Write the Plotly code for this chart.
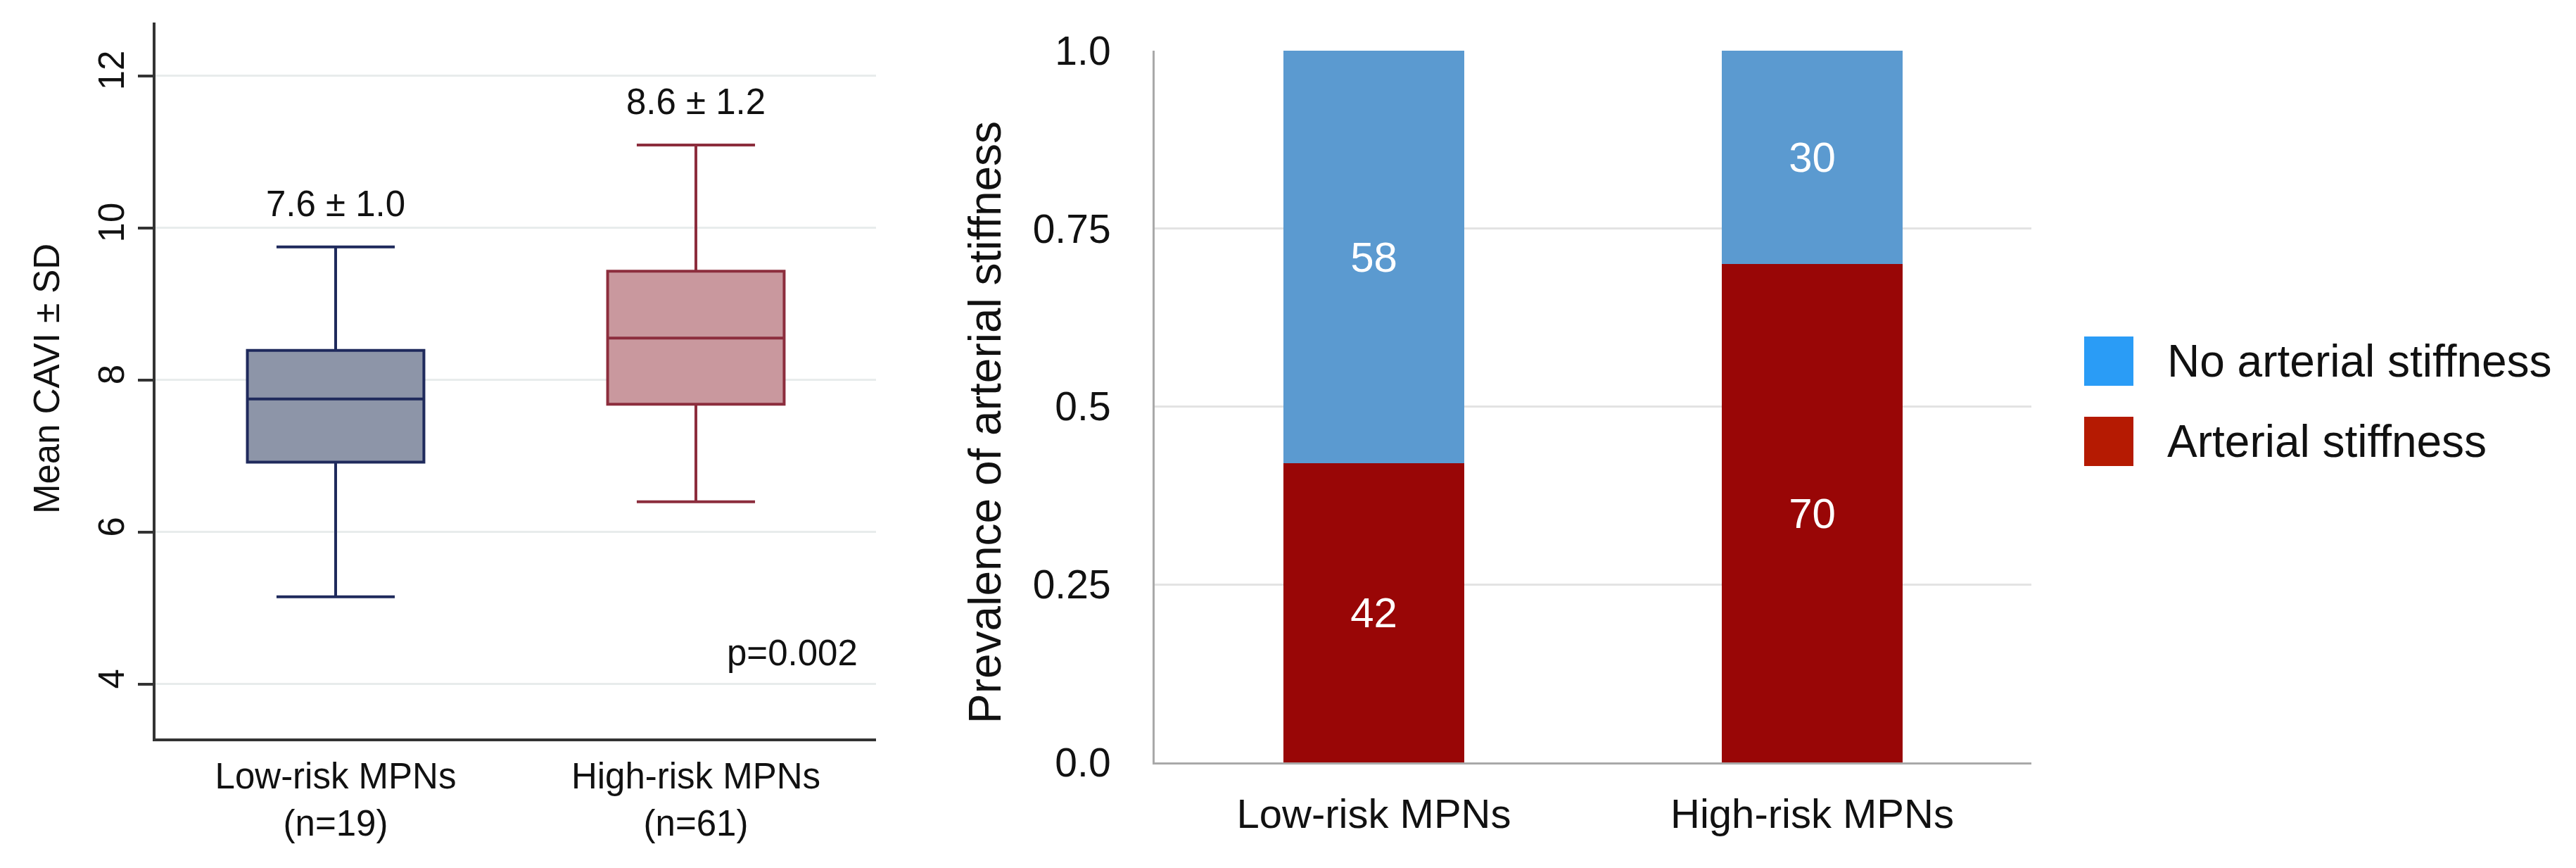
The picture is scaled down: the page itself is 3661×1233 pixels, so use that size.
import plotly.graph_objects as go

# ---------------- data ----------------
groups = ["Low-risk MPNs", "High-risk MPNs"]
group_labels = ["Low-risk MPNs<br>(n=19)", "High-risk MPNs<br>(n=61)"]
box_lowerfence = [5.15, 6.40]
box_q1 = [6.92, 7.68]
box_median = [7.75, 8.55]
box_q3 = [8.39, 9.43]
box_upperfence = [9.75, 11.09]
box_labels = ["7.6 ± 1.0", "8.6 ± 1.2"]
p_label = "p=0.002"

stiff = [0.42, 0.70]
no_stiff = [0.58, 0.30]
legend_names = ["No arterial stiffness", "Arterial stiffness"]

left_yticks = [4, 6, 8, 10, 12]
right_yticks = [0, 0.25, 0.5, 0.75, 1.0]
right_yticktext = ["0.0", "0.25", "0.5", "0.75", "1.0"]

# ---------------- style ----------------
FONT = "Liberation Sans, Arial, Helvetica, sans-serif"
box_fill = ["#8d95a8", "#c9989e"]
box_line = ["#1f2a5c", "#8c2d3d"]
bar_red = "#990606"
bar_blue = "#5b9ad0"
leg_blue = "#2a9cf6"
leg_red = "#b51a02"

W, H = 3661, 1233

fig = go.Figure()

for i, g in enumerate(groups):
    fig.add_trace(go.Box(
        x=[g], q1=[box_q1[i]], median=[box_median[i]], q3=[box_q3[i]],
        lowerfence=[box_lowerfence[i]], upperfence=[box_upperfence[i]],
        fillcolor=box_fill[i], line=dict(color=box_line[i], width=4),
        width=0.49, whiskerwidth=0.67, boxpoints=False, showlegend=False,
        hoverinfo="skip", xaxis="x", yaxis="y",
    ))
    fig.add_annotation(
        x=g, y=box_upperfence[i] + 0.57, xref="x", yref="y",
        text=box_labels[i], showarrow=False, yanchor="middle",
        font=dict(family=FONT, size=51, color="#111111"),
    )

fig.add_annotation(
    x=0.977, y=4.41, xref="x domain", yref="y", text=p_label,
    showarrow=False, xanchor="right", yanchor="middle",
    font=dict(family=FONT, size=51, color="#111111"),
)

fig.add_trace(go.Bar(
    x=groups, y=stiff, marker=dict(color=bar_red, line=dict(width=0)),
    width=0.413, text=[str(round(v * 100)) for v in stiff],
    textposition="inside", insidetextanchor="middle", textangle=0,
    constraintext="none",
    textfont=dict(family=FONT, size=60, color="white"),
    showlegend=False, xaxis="x2", yaxis="y2", name=legend_names[1],
))
fig.add_trace(go.Bar(
    x=groups, y=no_stiff, marker=dict(color=bar_blue, line=dict(width=0)),
    width=0.413, text=[str(round(v * 100)) for v in no_stiff],
    textposition="inside", insidetextanchor="middle", textangle=0,
    constraintext="none",
    textfont=dict(family=FONT, size=60, color="white"),
    showlegend=False, xaxis="x2", yaxis="y2", name=legend_names[0],
))

# y titles
fig.add_annotation(
    x=66 / W, y=1 - 538 / H, xref="paper", yref="paper", text="Mean CAVI ± SD",
    textangle=-90, showarrow=False, xanchor="center", yanchor="middle",
    font=dict(family=FONT, size=51, color="#111111"),
)
fig.add_annotation(
    x=1400 / W, y=1 - 600 / H, xref="paper", yref="paper",
    text="Prevalence of arterial stiffness",
    textangle=-90, showarrow=False, xanchor="center", yanchor="middle",
    font=dict(family=FONT, size=64, color="#111111"),
)

# legend (drawn)
leg_colors = [leg_blue, leg_red]
leg_y = [(478, 548), (592, 662)]
for i, name in enumerate(legend_names):
    y0, y1 = leg_y[i]
    fig.add_shape(type="rect", xref="paper", yref="paper",
                  x0=2962 / W, x1=3032 / W, y0=1 - y1 / H, y1=1 - y0 / H,
                  fillcolor=leg_colors[i], line=dict(width=0))
    fig.add_annotation(
        x=3078 / W, y=1 - ((y0 + y1) / 2) / H, xref="paper", yref="paper",
        text=name, showarrow=False, xanchor="left", yanchor="middle",
        font=dict(family=FONT, size=64, color="#111111"),
    )

fig.update_layout(
    width=W, height=H,
    margin=dict(l=0, r=0, t=0, b=0, autoexpand=False),
    paper_bgcolor="white", plot_bgcolor="white",
    boxmode="overlay", barmode="stack",
    showlegend=False,
    font=dict(family=FONT, color="#111111"),
    xaxis=dict(
        domain=[221 / W, 1245 / W], type="category", range=[-0.5, 1.5],
        automargin=False,
        showline=True, linecolor="#333333", linewidth=4,
        showgrid=False, zeroline=False, ticks="",
        tickvals=groups, ticktext=group_labels,
        tickfont=dict(family=FONT, size=51, color="#111111"),
        ticklabelstandoff=6,
        anchor="y",
    ),
    yaxis=dict(
        domain=[1 - 1049 / H, 1 - 32 / H], range=[3.287, 12.70],
        automargin=False,
        showline=True, linecolor="#333333", linewidth=4,
        showgrid=True, gridcolor="#e8ecec", gridwidth=3, zeroline=False,
        ticks="outside", ticklen=21, tickwidth=4, tickcolor="#333333",
        tickvals=left_yticks, tickangle=-90,
        tickfont=dict(family=FONT, size=51, color="#111111"),
        anchor="x",
    ),
    xaxis2=dict(
        domain=[1641 / W, 2887 / W], type="category", range=[-0.5, 1.5],
        automargin=False,
        showline=True, linecolor="#a9a9a9", linewidth=3,
        showgrid=False, zeroline=False, ticks="",
        tickfont=dict(family=FONT, size=58, color="#111111"),
        ticklabelstandoff=20,
        anchor="y2",
    ),
    yaxis2=dict(
        domain=[1 - 1083 / H, 1 - 72 / H], range=[0, 1],
        automargin=False,
        showline=True, linecolor="#a9a9a9", linewidth=3,
        showgrid=True, gridcolor="#e3e3e3", gridwidth=3, zeroline=False,
        ticks="", tickvals=right_yticks, ticktext=right_yticktext,
        tickfont=dict(family=FONT, size=57, color="#111111"),
        ticklabelstandoff=48,
        anchor="x2",
    ),
)

fig.write_html(
    "out.html",
    config={"displayModeBar": False},
    post_script="document.body.style.margin='0';document.body.style.overflow='hidden';",
)
